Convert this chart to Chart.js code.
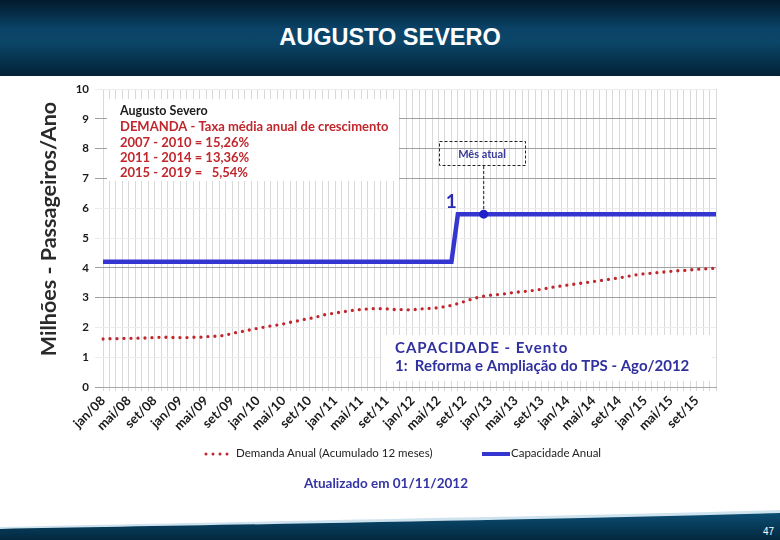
<!DOCTYPE html>
<html><head><meta charset="utf-8">
<script src="https://cdn.jsdelivr.net/npm/chart.js@4/dist/chart.umd.min.js"></script>
<style>
html,body{margin:0;padding:0;width:780px;height:540px;overflow:hidden;background:#fff;font-family:Lato,sans-serif}
#header{position:absolute;left:0;top:0;width:780px;height:76px;background:linear-gradient(#021a2c 0%,#0a4367 38%,#0b4669 55%,#032236 100%);}
#title{position:absolute;left:0;top:0;width:780px;height:76px;text-align:center;color:#fff;font:bold 23.5px "Liberation Sans",Arial,sans-serif;line-height:74px}
#footer{position:absolute;left:0;top:500px;width:780px;height:40px}
#pnum{position:absolute;right:6px;bottom:3px;color:#fff;font:10px "Liberation Sans",Arial,sans-serif}
#chart{position:absolute;left:0;top:0}
#legend{position:absolute;left:0;top:445px;width:780px;height:18px;font:11.5px Lato,sans-serif;color:#222}
#updated{position:absolute;left:0;top:475px;width:780px;text-align:center;font:bold 13.5px Lato,sans-serif;color:#3434a4;padding-right:8px;box-sizing:border-box}
</style></head>
<body>
<div id="header"></div>
<div id="title">AUGUSTO SEVERO</div>
<svg id="footer" width="780" height="40" viewBox="0 0 780 40">
  <defs><linearGradient id="fg" x1="0" y1="0" x2="0" y2="1"><stop offset="0" stop-color="#0b4d73"/><stop offset="1" stop-color="#03283f"/></linearGradient></defs>
  <path d="M0,27 C200,22 500,18 780,10 L780,40 L0,40 Z" fill="#cfe3ef"/>
  <path d="M0,29 C200,25 500,21 780,13 L780,40 L0,40 Z" fill="url(#fg)"/>
</svg>
<div id="pnum">47</div>
<canvas id="chart" width="780" height="540"></canvas>
<div id="legend"></div>
<div id="updated">Atualizado em 01/11/2012</div>
<script>
// ---- data ----
const monthNames = ['jan','fev','mar','abr','mai','jun','jul','ago','set','out','nov','dez'];
const yearNames = ['08','09','10','11','12','13','14','15'];
const categories = [];
yearNames.forEach(y => monthNames.forEach(m => categories.push(m + '/' + y)));

// Demanda Anual (Acumulado 12 meses), milhões
const demanda = [
  1.61,1.62,1.62,1.63,1.63,1.64,1.64,1.65,1.66,1.67,1.67,1.66,
  1.66,1.66,1.67,1.67,1.69,1.70,1.71,1.74,1.80,1.84,1.88,1.93,
  1.97,2.01,2.05,2.08,2.12,2.17,2.21,2.26,2.30,2.34,2.41,2.45,
  2.48,2.52,2.55,2.58,2.60,2.62,2.63,2.63,2.62,2.60,2.60,2.59,
  2.59,2.62,2.63,2.64,2.66,2.70,2.74,2.80,2.87,2.94,3.00,3.05,
  3.08,3.10,3.12,3.15,3.18,3.20,3.22,3.25,3.28,3.32,3.36,3.39,
  3.42,3.45,3.48,3.51,3.54,3.57,3.60,3.63,3.66,3.70,3.74,3.78,
  3.80,3.82,3.84,3.86,3.88,3.90,3.91,3.93,3.95,3.96,3.97,3.99
];
// Capacidade Anual, milhões
const capacidade = [
  4.2,4.2,4.2,4.2,4.2,4.2,4.2,4.2,4.2,4.2,4.2,4.2,
  4.2,4.2,4.2,4.2,4.2,4.2,4.2,4.2,4.2,4.2,4.2,4.2,
  4.2,4.2,4.2,4.2,4.2,4.2,4.2,4.2,4.2,4.2,4.2,4.2,
  4.2,4.2,4.2,4.2,4.2,4.2,4.2,4.2,4.2,4.2,4.2,4.2,
  4.2,4.2,4.2,4.2,4.2,4.2,4.2,5.8,5.8,5.8,5.8,5.8,
  5.8,5.8,5.8,5.8,5.8,5.8,5.8,5.8,5.8,5.8,5.8,5.8,
  5.8,5.8,5.8,5.8,5.8,5.8,5.8,5.8,5.8,5.8,5.8,5.8,
  5.8,5.8,5.8,5.8,5.8,5.8,5.8,5.8,5.8,5.8,5.8,5.8
];
const yTicks = [0,1,2,3,4,5,6,7,8,9,10];
const tickEvery = 4;
const currentMonth = 'dez/12';
const eventMonth = 'ago/12';
const seriesNames = ['Demanda Anual (Acumulado 12 meses)', 'Capacidade Anual'];
const infoLines = ['Augusto Severo','DEMANDA - Taxa média anual de crescimento','2007 - 2010 = 15,26%','2011 - 2014 = 13,36%','2015 - 2019 =   5,54%'];
const eventLines = ['CAPACIDADE - Evento','1:  Reforma e Ampliação do TPS - Ago/2012'];

const RED = '#c0262c', BLUE = '#3535d0';

// legend (HTML)
document.getElementById('legend').innerHTML =
  '<svg width="780" height="18" style="position:absolute;left:0;top:0">' +
  '<line x1="206" y1="9" x2="232" y2="9" stroke="'+RED+'" stroke-width="3" stroke-linecap="round" stroke-dasharray="0 7"/>' +
  '<line x1="482" y1="9" x2="510" y2="9" stroke="'+BLUE+'" stroke-width="4"/></svg>' +
  '<span style="position:absolute;left:236px;top:1px">'+seriesNames[0]+'</span>' +
  '<span style="position:absolute;left:511px;top:1px">'+seriesNames[1]+'</span>';

const annot = {
  id: 'annot',
  afterDatasetsDraw(chart) {
    const ctx = chart.ctx, xs = chart.scales.x, ys = chart.scales.y;
    ctx.save();
    // info box
    ctx.fillStyle = '#fff';
    ctx.fillRect(107, 99, 292, 82);
    ctx.textBaseline = 'middle';
    ctx.textAlign = 'left';
    ctx.fillStyle = '#1a1a1a';
    ctx.font = 'bold 12.5px Lato';
    ctx.fillText(infoLines[0], 120, 111);
    ctx.fillStyle = RED;
    ctx.font = 'bold 13px Lato';
    ctx.fillText(infoLines[1], 120, 127);
    ctx.fillText(infoLines[2], 120, 143);
    ctx.fillText(infoLines[3], 120, 158);
    ctx.fillText(infoLines[4], 120, 173);
    // event box
    ctx.fillStyle = '#fff';
    ctx.fillRect(382, 335, 330, 46);
    ctx.fillStyle = '#30309e';
    ctx.font = 'bold 15px Lato';
    ctx.letterSpacing = '1px';
    ctx.fillText(eventLines[0], 395, 348);
    ctx.letterSpacing = '0px';
    ctx.fillText(eventLines[1], 395, 366);
    // current month marker
    const ci = categories.indexOf(currentMonth);
    const cx = xs.getPixelForValue(ci), cy = ys.getPixelForValue(capacidade[ci]);
    ctx.strokeStyle = '#222';
    ctx.lineWidth = 1;
    ctx.setLineDash([3, 2]);
    ctx.strokeRect(439.5, 141.5, 86, 24);
    ctx.beginPath(); ctx.moveTo(cx, 166); ctx.lineTo(cx, cy); ctx.stroke();
    ctx.setLineDash([]);
    ctx.fillStyle = '#3a3a9a';
    ctx.font = 'bold 11px Lato';
    ctx.textAlign = 'center';
    ctx.fillText('Mês atual', 482, 154);
    ctx.fillStyle = '#2020c8';
    ctx.beginPath(); ctx.arc(cx, cy, 4.5, 0, Math.PI * 2); ctx.fill();
    // event number
    const ei = categories.indexOf(eventMonth);
    ctx.fillStyle = '#2a2ab0';
    ctx.font = 'bold 19px Lato';
    ctx.textAlign = 'right';
    ctx.textBaseline = 'alphabetic';
    ctx.fillText('1', xs.getPixelForValue(ei) - 1, ys.getPixelForValue(capacidade[ei]) - 6);
    // y axis title
    ctx.translate(49, 229);
    ctx.rotate(-Math.PI / 2);
    ctx.textAlign = 'center';
    ctx.textBaseline = 'middle';
    ctx.fillStyle = '#2a2a2a';
    ctx.font = 'bold 21.5px Lato';
    ctx.fillText('Milhões - Passageiros/Ano', 0, 0);
    ctx.restore();
  }
};

const strongLines = [0, 3, 4, 7, 8, 9];
new Chart(document.getElementById('chart'), {
  type: 'line',
  data: {
    labels: categories,
    datasets: [
      { label: seriesNames[0], data: demanda, borderColor: RED, borderWidth: 3.3, borderDash: [0, 7],
        borderCapStyle: 'round', pointRadius: 0, tension: 0, fill: false },
      { label: seriesNames[1], data: capacidade, borderColor: BLUE, borderWidth: 4.5,
        pointRadius: 0, tension: 0, fill: false }
    ]
  },
  options: {
    responsive: false, animation: false, devicePixelRatio: 1,
    layout: { padding: { left: 0, right: 64, top: 89, bottom: 103 } },
    plugins: { legend: { display: false }, tooltip: { enabled: false } },
    scales: {
      x: {
        offset: false,
        afterFit(s) { s.height = 50; },
        grid: { color: '#d9d9d9', lineWidth: 1, drawTicks: true, tickLength: 4 },
        border: { color: '#aaa' },
        ticks: {
          autoSkip: false, maxRotation: 45, minRotation: 45, padding: 2,
          color: '#1a1a1a', font: { family: 'Lato', weight: 'bold', size: 13 },
          callback(v, i) { return i % tickEvery === 0 ? categories[i] : ''; }
        }
      },
      y: {
        min: yTicks[0], max: yTicks[yTicks.length - 1],
        afterFit(s) { s.width = 103; },
        afterBuildTicks(s) { s.ticks = yTicks.map(v => ({ value: v })); },
        grid: {
          color: c => strongLines.includes(c.tick.value) ? '#a0a0a0' : '#ececec',
          lineWidth: 1, tickLength: 8
        },
        border: { display: false },
        ticks: { color: '#1a1a1a', padding: 6, font: { family: 'Lato', weight: 'bold', size: 11.5 } }
      }
    }
  },
  plugins: [annot]
});
</script>
</body></html>
